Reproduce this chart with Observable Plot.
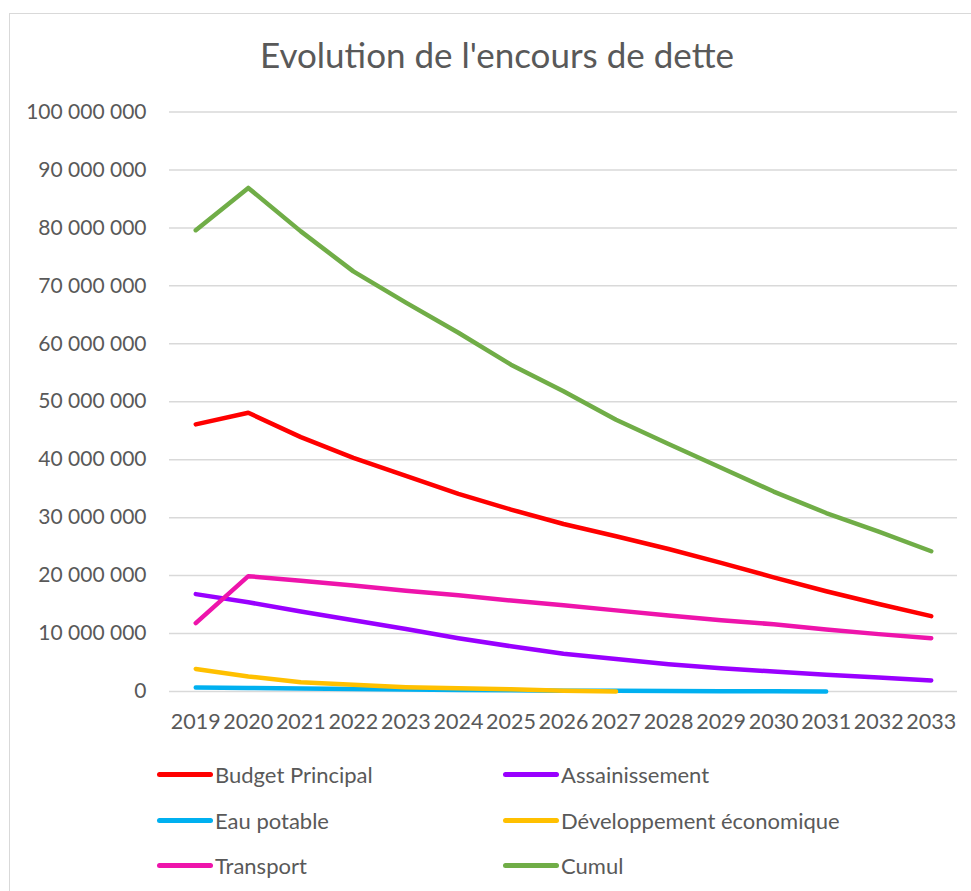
<!DOCTYPE html>
<html>
<head>
<meta charset="utf-8">
<script src="https://cdn.jsdelivr.net/npm/d3@7"></script>
<script src="https://cdn.jsdelivr.net/npm/@observablehq/plot@0.6"></script>
<style>
  body { margin: 0; background: #fff; font-family: Lato, "Noto Sans", sans-serif; }
  #wrap { position: relative; width: 971px; height: 891px; overflow: hidden; }
  #frame { position: absolute; left: 9px; top: 13px; width: 1000px; height: 1000px; border: 1.5px solid #d9d9d9; box-sizing: border-box; }
  #title { position: absolute; left: 0; width: 994px; top: 33px; text-align: center; font-size: 35px; color: #595959; }
  #chart { position: absolute; left: 0; top: 0; }
  .leg { position: absolute; display: flex; align-items: center; font-size: 22px; color: #595959; }
  .leg span.sw { display: inline-block; width: 56px; height: 5px; border-radius: 3px; margin-right: 2px; }
</style>
</head>
<body>
<div id="wrap">
  <div id="frame"></div>
  <div id="chart"></div>
  <div id="title">Evolution de l'encours de dette</div>
  <div id="legend"></div>
</div>
<script>
const years = ["2019","2020","2021","2022","2023","2024","2025","2026","2027","2028","2029","2030","2031","2032","2033"];
const seriesNames = ["Budget Principal","Assainissement","Eau potable","Développement économique","Transport","Cumul"];
const seriesColors = ["#FF0000","#9900FF","#00B0F0","#FFC000","#EE14AB","#70AD47"];

const budgetPrincipal = [46100000,48100000,43900000,40300000,37200000,34100000,31400000,28900000,26800000,24600000,22200000,19700000,17300000,15100000,13000000];
const assainissement  = [16800000,15400000,13800000,12300000,10800000,9200000,7800000,6500000,5600000,4700000,4000000,3450000,2900000,2400000,1900000];
const eauPotable      = [700000,600000,500000,420000,340000,270000,200000,150000,110000,80000,50000,30000,10000];
const devEco          = [3900000,2600000,1600000,1150000,750000,550000,400000,150000,0];
const transport       = [11800000,19900000,19100000,18300000,17400000,16600000,15700000,14900000,14000000,13100000,12300000,11600000,10700000,9900000,9200000];
const cumul           = [79600000,86900000,79400000,72500000,67100000,61900000,56400000,51800000,46900000,42700000,38600000,34500000,30800000,27600000,24200000];
const yTicks = [0,10000000,20000000,30000000,40000000,50000000,60000000,70000000,80000000,90000000,100000000];

const seriesValues = [budgetPrincipal, assainissement, eauPotable, devEco, transport, cumul];
const data = [];
seriesNames.forEach((name, i) => {
  seriesValues[i].forEach((v, j) => data.push({series: name, year: years[j], value: v}));
});

const fmt = v => d3.format(",")(v).replace(/,/g, " ");

const chart = Plot.plot({
  width: 971,
  height: 891,
  marginLeft: 169,
  marginRight: 14,
  marginTop: 111.5,
  marginBottom: 200,
  style: { fontFamily: "Lato, 'Noto Sans', sans-serif", fontSize: "21px", color: "#595959", background: "transparent" },
  x: { type: "point", domain: years, padding: 0.5, round: false, label: null },
  y: { domain: [0, 100000000], label: null },
  color: { domain: seriesNames, range: seriesColors },
  marks: [
    Plot.gridY(yTicks, { stroke: "#d9d9d9", strokeOpacity: 1, strokeWidth: 1.5 }),
    Plot.axisY(yTicks, { tickSize: 0, tickPadding: 23, tickFormat: fmt, fontSize: 21, fill: "#595959" }),
    Plot.axisX(years, { tickSize: 0, tickPadding: 22, fontSize: 21.5, fill: "#595959" }),
    Plot.line(data, { x: "year", y: "value", z: "series", stroke: "series", strokeWidth: 4.5, strokeLinecap: "round", strokeLinejoin: "round" })
  ]
});
document.getElementById("chart").appendChild(chart);

const legendPos = [[157, 774], [503, 774], [157, 820], [503, 820], [157, 865], [503, 865]];
const legend = document.getElementById("legend");
seriesNames.forEach((name, i) => {
  const d = document.createElement("div");
  d.className = "leg";
  d.style.left = legendPos[i][0] + "px";
  d.style.top = (legendPos[i][1] - 15) + "px";
  d.style.height = "30px";
  d.innerHTML = `<span class="sw" style="background:${seriesColors[i]}"></span><span>${name}</span>`;
  legend.appendChild(d);
});
</script>
</body>
</html>
